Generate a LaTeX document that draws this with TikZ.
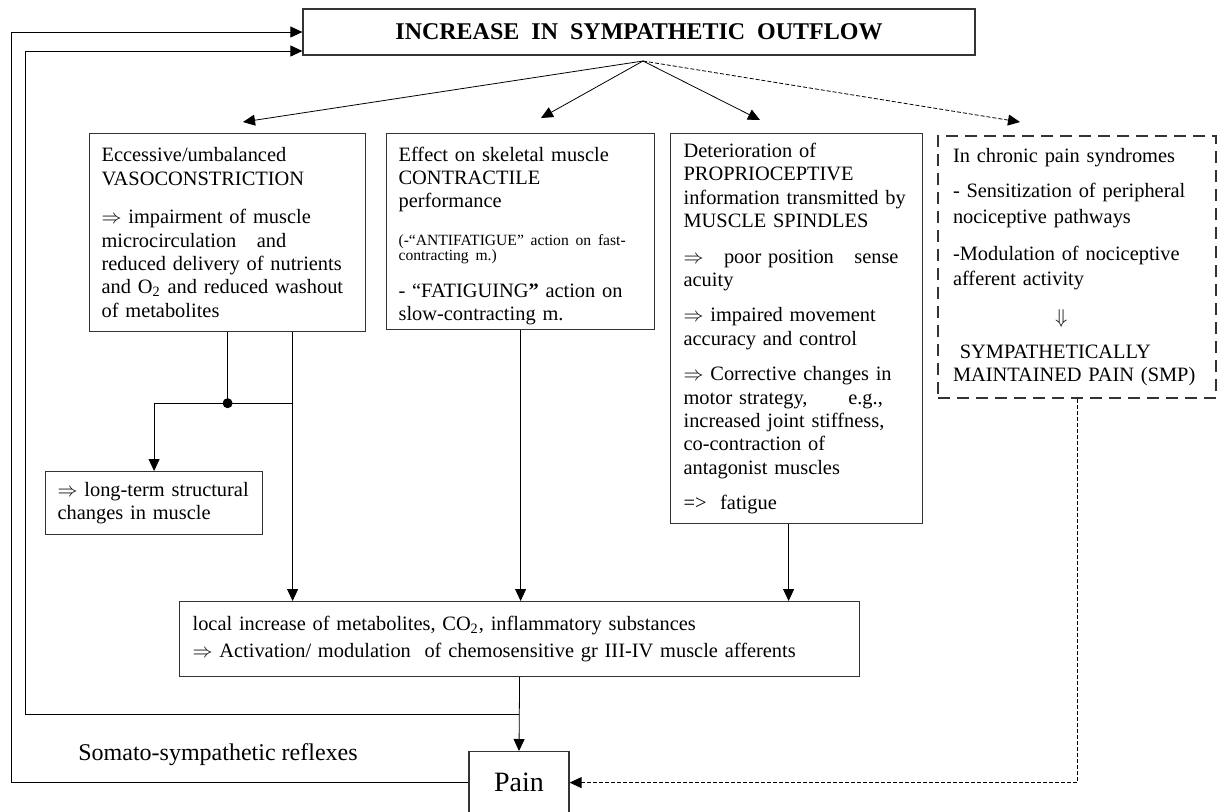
\documentclass[tikz,border=0pt]{standalone}
\usepackage{fontspec}
\setmainfont{Liberation Serif}
\usetikzlibrary{arrows.meta,calc}

\begin{document}
\begin{tikzpicture}[x=0.5pt, y=-0.5pt,
    box/.style={draw=black!80, line width=0.6pt, anchor=north west, align=left,
      inner ysep=0pt, font=\fontsize{10.2}{11.7}\selectfont},
    arr/.style={-{Triangle[length=6pt,width=5.5pt]}},
    feed/.style={arr, dash pattern=on 2pt off 1pt}]
    \clip (0,0) rectangle (1217,811);

    % Top box
    \node[draw=black!80, line width=0.6pt, minimum width=336pt, minimum height=23pt,
      font=\bfseries\fontsize{12}{14}\selectfont] (outflow) at (639,32)
      {INCREASE~ IN~ SYMPATHETIC~ OUTFLOW};

    % Effects of the outflow
    \node[box, inner xsep=6pt, text width=126pt, minimum height=99pt] (vaso) at (89,133)
      {Eccessive/umbalanced\\
       VASOCONSTRICTION\\[7.5pt]
       $\Rightarrow$ impairment of muscle\\
       microcirculation\quad and\\
       reduced delivery of nutrients\\
       and O\textsubscript{2} and reduced washout\\
       of metabolites};
    \node[box, inner xsep=6pt, text width=122pt, minimum height=98pt] (effect) at (386,133)
      {\rule{0pt}{11.5pt}Effect on skeletal muscle\\
       CONTRACTILE\\
       performance\\[10pt]
       \fontsize{7.8}{7}\selectfont (-“ANTIFATIGUE” action on fast-\\[-0.5pt]
       contracting m.)\\[6.8pt]
       \fontsize{10.2}{11.7}\selectfont - “FATIGUING\textbf{”} action on\\
       slow-contracting m.};
    \node[box, inner xsep=6.5pt, text width=113pt, minimum height=195pt] (spindle) at (670,133)
      {Deterioration of\\
       PROPRIOCEPTIVE\\
       information transmitted by\\
       MUSCLE SPINDLES\\[6pt]
       $\Rightarrow$\quad poor position\quad sense\\
       acuity\\[6pt]
       $\Rightarrow$ impaired movement\\
       accuracy and control\\[6pt]
       $\Rightarrow$ Corrective changes in\\
       motor strategy,\qquad e.g.,\\
       increased joint stiffness,\\
       co-contraction of\\
       antagonist muscles\\[6pt]
       =>\ \ fatigue};
    \node[box, line width=1pt, dash pattern=on 6pt off 3.5pt, inner xsep=7.5pt,
      text width=124pt, minimum height=131pt] (smp) at (937,135)
      {In chronic pain syndromes\\[6pt]
       - Sensitization of peripheral\\[1.5pt]
       nociceptive pathways\\[6.5pt]
       -Modulation of nociceptive\\[1pt]
       afferent activity\\[7pt]
       \hspace*{51pt}$\Downarrow$\\[6pt]
       \ SYMPATHETICALLY\\
       MAINTAINED PAIN (SMP)};

    % Lower boxes
    \node[box, inner xsep=6pt, text width=96.5pt, minimum height=31.5pt] (longterm) at (45,471)
      {$\Rightarrow$ long-term structural\\ changes in muscle};
    \node[box, inner xsep=6.5pt, text width=327pt, minimum height=37.5pt] (local) at (179,601)
      {local increase of metabolites, CO\textsubscript{2}, inflammatory substances\\[2pt]
       $\Rightarrow$ Activation/ modulation\ \ of chemosensitive gr III-IV muscle afferents};
    \node[draw=black!80, line width=0.6pt, minimum width=50pt, minimum height=31pt, anchor=north,
      font=\fontsize{14}{16}\selectfont] (pain) at (519,751) {Pain};
    \node[anchor=base west, inner sep=0pt, font=\fontsize{12}{14}\selectfont] (reflex) at (78,760)
      {Somato-sympathetic reflexes};

    % Fan out from the top box
    \coordinate (fork) at (643,61);
    \coordinate (t1) at (243,122);
    \coordinate (t2) at (541,118);
    \coordinate (t3) at (760,120);
    \coordinate (t4) at (1020,122);
    \draw[arr] (fork) -- (t1);
    \draw[arr] (fork) -- (t2);
    \draw[arr] (fork) -- (t3);
    \draw[feed] (fork) -- (t4);

    % Down to the local box
    \coordinate (dot) at ([yshift=-35.5pt]vaso.south);
    \coordinate (side) at ([xshift=32.5pt]vaso.south);
    \coordinate (s3) at ([xshift=-4pt]spindle.south);
    \draw (vaso.south) -- (dot);
    \fill (dot) circle (2.5pt);
    \draw (dot) -- (dot -| side);
    \draw[arr] (dot) -| (longterm.north);
    \draw[arr] (side) -- (side |- local.north);
    \draw[arr] (effect.south) -- (effect.south |- local.north);
    \draw[arr] (s3) -- (s3 |- local.north);
    \draw[arr] (local.south) -- (pain.north);

    % Feedback loops
    \coordinate (j) at ($(local.south)!0.5!(pain.north)$);
    \coordinate (wall1) at (11,0);
    \coordinate (wall2) at (25,0);
    \draw[arr] (j) -- (j -| wall2) |- ([yshift=-9.5pt]outflow.west);
    \draw[arr] (pain.west) -- (pain.west -| wall1) |- (outflow.west);
    \draw[feed] (smp.south) |- (pain.east);
\end{tikzpicture}
\end{document}
